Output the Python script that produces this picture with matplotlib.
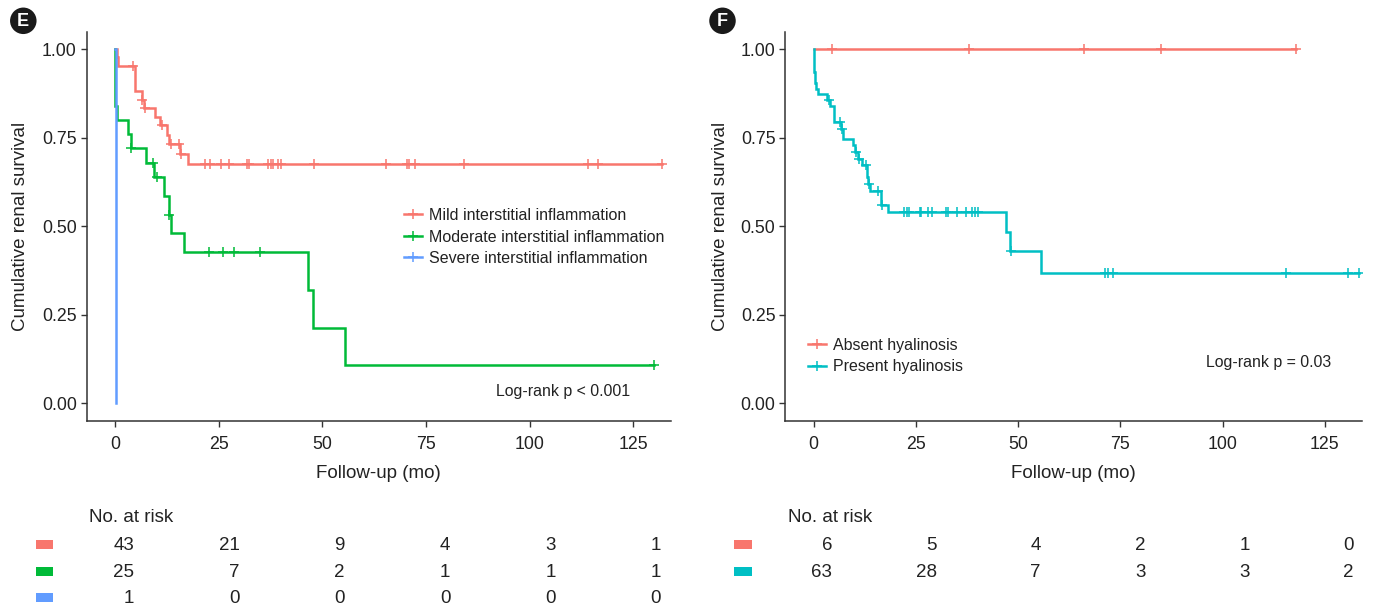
import numpy as np
import matplotlib
matplotlib.use("Agg")
import matplotlib.pyplot as plt
from matplotlib.lines import Line2D
from matplotlib.patches import Rectangle, Ellipse
from matplotlib.transforms import blended_transform_factory

plt.rcParams['font.family'] = ['Liberation Sans', 'DejaVu Sans']

# ---------------- data (panel E) ----------------
mild_t = [0, 0.4, 0.8, 4.7, 6.4, 6.9, 9.7, 10.9, 12.5, 13.1, 15.7, 17.5]
mild_s = [1.0, 0.977, 0.953, 0.882, 0.858, 0.835, 0.810, 0.785, 0.757, 0.733, 0.703, 0.675]
mild_cens = [4.4, 6.6, 7.3, 11.3, 13.4, 15.3, 16.0, 21.8, 23.0, 25.6, 27.4, 31.8, 32.4,
             36.9, 37.7, 38.1, 39.3, 40.0, 47.9, 65.3, 70.4, 70.9, 72.4, 84.1, 114.1,
             116.6, 132.0]

mod_t = [0, 0.05, 0.5, 3.1, 3.8, 7.4, 9.4, 11.7, 12.9, 13.6, 16.5, 46.5, 47.7, 55.5]
mod_s = [1.0, 0.84, 0.80, 0.76, 0.72, 0.68, 0.64, 0.587, 0.533, 0.48, 0.427, 0.32, 0.213, 0.107]
mod_cens = [3.9, 9.2, 10.0, 12.95, 22.6, 26.1, 28.6, 34.9, 130.0]

sev_t = [0, 0.2]
sev_s = [1.0, 0.0]
sev_cens = []

# ---------------- data (panel F) ----------------
abs_t = [0]
abs_s = [1.0]
abs_cens = [4.6, 38.0, 66.1, 85.0, 117.9]

pres_t = [0, 0.02, 0.05, 0.08, 0.12, 0.25, 0.4, 0.65, 1.06, 3.3, 4.15, 4.96, 6.8, 7.2,
          9.6, 10.2, 10.8, 11.8, 13.1, 13.4, 13.7, 16.4, 18.15, 47.0, 48.0, 55.6]
pres_s = [1.0, 0.984, 0.968, 0.952, 0.937, 0.921, 0.905, 0.889, 0.873, 0.857, 0.841,
          0.795, 0.776, 0.748, 0.729, 0.71, 0.69, 0.674, 0.639, 0.62, 0.599, 0.559,
          0.539, 0.485, 0.431, 0.369]
pres_cens = [3.9, 6.5, 7.0, 10.5, 11.1, 12.8, 13.5, 15.7, 16.8, 22.2, 22.8, 23.4, 26.0,
             26.4, 27.9, 28.9, 32.5, 32.9, 35.2, 37.2, 38.8, 39.6, 40.3, 48.3, 71.2,
             71.9, 73.3, 115.4, 130.7, 133.4]

# ---------------- risk tables ----------------
risk_times = [0, 25, 50, 75, 100, 125]
risk_E = [[43, 21, 9, 4, 3, 1], [25, 7, 2, 1, 1, 1], [1, 0, 0, 0, 0, 0]]
risk_F = [[6, 5, 4, 2, 1, 0], [63, 28, 7, 3, 3, 2]]

labels_E = ["Mild interstitial inflammation", "Moderate interstitial inflammation",
            "Severe interstitial inflammation"]
labels_F = ["Absent hyalinosis", "Present hyalinosis"]
colors_E = ["#F8766D", "#00BA38", "#619CFF"]
colors_F = ["#F8766D", "#00BFC4"]

xticks = [0, 25, 50, 75, 100, 125]
yticks = [0.0, 0.25, 0.5, 0.75, 1.0]

# ---------------- figure ----------------
W, H = 1375, 610
fig = plt.figure(figsize=(W / 100, H / 100), dpi=100)

TXT = "#222222"
AX = "#333333"


def fx(px):
    return px / W


def fy(py):
    return 1 - py / H


def km(ax, t, s, cens, color):
    t = list(t)
    s = list(s)
    end = max([t[-1]] + list(cens))
    ax.step(t + [end], s + [s[-1]], where='post', color=color, lw=1.8,
            solid_joinstyle='miter', zorder=3)
    if cens:
        idx = np.searchsorted(np.array(t), np.array(cens), side='right') - 1
        ys = np.array(s)[idx]
        ax.plot(cens, ys, ls='none', marker='+', ms=7.5, mew=1.1, color=color, zorder=4)


def style_ax(ax):
    ax.set_xlim(-6.9, 134.1)
    ax.set_ylim(-0.05, 1.05)
    ax.set_xticks(xticks)
    ax.set_xticklabels([str(v) for v in xticks])
    ax.set_yticks(yticks)
    ax.set_yticklabels(["%.2f" % v for v in yticks])
    for sp in ['top', 'right']:
        ax.spines[sp].set_visible(False)
    for sp in ['left', 'bottom']:
        ax.spines[sp].set_color(AX)
        ax.spines[sp].set_linewidth(1.1)
    ax.tick_params(axis='both', colors=AX, labelcolor=TXT, labelsize=12.8,
                   length=4.3, width=1.0)
    ax.tick_params(axis='y', pad=2.8)
    ax.tick_params(axis='x', pad=6.2)
    ax.set_xlabel("Follow-up (mo)", fontsize=13.5, color=TXT)
    ax.set_ylabel("Cumulative renal survival", fontsize=13.5, color=TXT)
    ax.xaxis.set_label_coords(0.5, -0.113)
    ax.yaxis.set_label_coords(-0.098, 0.5)


axE = fig.add_axes([fx(86.5), fy(421), fx(584.5), 389.4 / H])
axF = fig.add_axes([fx(785.3), fy(421), fx(576.7), 389.4 / H])
for ax in (axE, axF):
    style_ax(ax)

km(axE, mild_t, mild_s, mild_cens, colors_E[0])
km(axE, mod_t, mod_s, mod_cens, colors_E[1])
km(axE, sev_t, sev_s, sev_cens, colors_E[2])

km(axF, abs_t, abs_s, abs_cens, colors_F[0])
km(axF, pres_t, pres_s, pres_cens, colors_F[1])


def legend(ax, labels, colors, x, y):
    handles = [Line2D([], [], color=c, lw=1.8, marker='+', ms=7.5, mew=1.1) for c in colors]
    lg = ax.legend(handles, labels, loc='center left', bbox_to_anchor=(x, y),
                   frameon=False, fontsize=11.5, handlelength=1.1, handletextpad=0.45,
                   labelspacing=0.41, borderpad=0, borderaxespad=0)
    for tx in lg.get_texts():
        tx.set_color(TXT)


legend(axE, labels_E, colors_E, (404 - 86.5) / 584.5, (421 - 237) / 389.4)
legend(axF, labels_F, colors_F, (808 - 785.3) / 576.7, (421 - 356) / 389.4)

axE.text(124.3, 0.034, "Log-rank p < 0.001", ha='right', va='center', fontsize=11.4, color=TXT)
axF.text(126.5, 0.116, "Log-rank p = 0.03", ha='right', va='center', fontsize=11.4, color=TXT)

# ---------------- risk tables ----------------
def risk_table(x0px, wpx, t0px, scale, rows, colors, row_y):
    tab = fig.add_axes([fx(x0px), 0, fx(wpx), 110 / H])
    tab.set_xlim(-(t0px - x0px) / scale, (x0px + wpx - t0px) / scale)
    tab.set_ylim(610, 500)
    tab.axis('off')
    bt = blended_transform_factory(tab.transAxes, tab.transData)
    tab.text((89 - 86.5) / 584.5, 517, "No. at risk", ha='left', va='center',
             fontsize=13.5, color=TXT, transform=bt)
    for r, (vals, c, yy) in enumerate(zip(rows, colors, row_y)):
        tab.add_patch(Rectangle((-50.9 / wpx, yy - 4.5), 17.7 / wpx, 9, transform=bt,
                                facecolor=c, edgecolor='none', clip_on=False))
        for tt, v in zip(risk_times, vals):
            tab.text(tt, yy + 1.5, str(v), ha='right', va='center', fontsize=13.5, color=TXT)
    return tab


risk_table(86.5, 584.5, 134.2, 4.2144, risk_E, colors_E, [544, 571, 597])
risk_table(785.3, 576.7, 832.3, 4.1736, risk_F, colors_F, [544, 571])

# ---------------- panel letters ----------------
for cx, letter in [(23.3, "E"), (722.5, "F")]:
    fig.patches.append(Ellipse((fx(cx), fy(20.8)), 26.5 / W, 26.5 / H,
                               transform=fig.transFigure, facecolor='#1a1a1a',
                               edgecolor='none'))
    fig.text(fx(cx), fy(21.3), letter, ha='center', va='center', color='white',
             fontsize=13, fontweight='bold')

fig.savefig("out.png", dpi=100)
